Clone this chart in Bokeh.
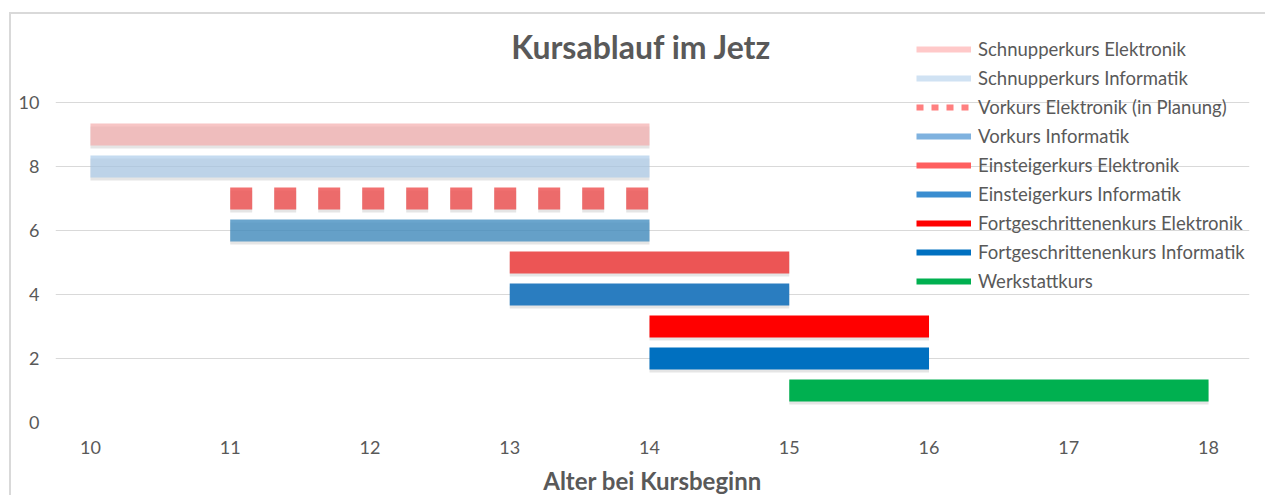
from bokeh.plotting import figure
from bokeh.models import Legend, LegendItem, Range1d, FixedTicker, Label
from bokeh.embed import file_html
from bokeh.resources import INLINE

courses = [
    "Schnupperkurs Elektronik",
    "Schnupperkurs Informatik",
    "Vorkurs Elektronik (in Planung)",
    "Vorkurs Informatik",
    "Einsteigerkurs Elektronik",
    "Einsteigerkurs Informatik",
    "Fortgeschrittenenkurs Elektronik",
    "Fortgeschrittenenkurs Informatik",
    "Werkstattkurs",
]
start_age = [10, 10, 11, 11, 13, 13, 14, 14, 15]
end_age = [14, 14, 14, 14, 15, 15, 16, 16, 18]
level = [9, 8, 7, 6, 5, 4, 3, 2, 1]
x_ticks = [10, 11, 12, 13, 14, 15, 16, 17, 18]
y_ticks = [0, 2, 4, 6, 8, 10]

bar_colors = ["#F4ACAC", "#ACCCE9", "#EE4C4C", "#458FC1", "#EC5555", "#2A7DC0", "#FF0000", "#0070C0", "#00B050"]
bar_alpha = [0.7, 0.7, 0.8, 0.8, 1, 1, 1, 1, 1]
legend_colors = ["#FFC9C9", "#D0E2F3", "#FF7F7F", "#7FB2DF", "#FF5F5F", "#3A8DD0", "#FF0000", "#0070C0", "#00B050"]
dashes = ["solid", "solid", "22 22", "solid", "solid", "solid", "solid", "solid", "solid"]
legend_dashes = ["solid", "solid", "7 8", "solid", "solid", "solid", "solid", "solid", "solid"]

TXT = "#595959"
FONT = "Lato"
SHADOW_DY = 0.09  # shadow drop in y units (~3px)

p = figure(width=1256, height=483, output_backend="svg", toolbar_location=None,
           x_range=Range1d(9.75, 18.293), y_range=Range1d(0, 12.75),
           min_border_left=44, min_border_right=18, min_border_top=0, min_border_bottom=75)
p.outline_line_color = None
p.background_fill_color = "white"
p.border_fill_color = "white"
p.styles = {"margin-left": "9px", "margin-top": "12px",
            "border-left": "2px solid #D9D9D9", "border-top": "2px solid #D9D9D9"}

for ax in (p.xaxis[0], p.yaxis[0]):
    ax.axis_line_color = None
    ax.major_tick_line_color = None
    ax.minor_tick_line_color = None
    ax.major_tick_out = 0
    ax.major_tick_in = 0
    ax.minor_tick_out = 0
    ax.major_label_text_font = FONT
    ax.major_label_text_font_size = "18px"
    ax.major_label_text_color = TXT

p.xaxis.ticker = FixedTicker(ticks=x_ticks)
p.yaxis.ticker = FixedTicker(ticks=y_ticks)
p.xaxis.major_label_standoff = 18
p.yaxis.major_label_standoff = 16
p.xaxis.axis_label = "Alter bei Kursbeginn"
p.xaxis.axis_label_text_font = FONT
p.xaxis.axis_label_text_font_size = "24px"
p.xaxis.axis_label_text_font_style = "bold"
p.xaxis.axis_label_text_color = TXT
p.xaxis.axis_label_standoff = 9

p.xgrid.grid_line_color = None
p.ygrid.grid_line_color = "#D9D9D9"
p.ygrid.grid_line_width = 1

# soft drop shadows
for i in range(len(courses)):
    p.line(x=[start_age[i], end_age[i]], y=[level[i] - SHADOW_DY, level[i] - SHADOW_DY],
           line_width=22, line_color="#000000", line_alpha=0.10,
           line_dash=dashes[i], line_cap="butt")

for i in range(len(courses)):
    p.line(x=[start_age[i], end_age[i]], y=[level[i], level[i]],
           line_width=22, line_color=bar_colors[i], line_alpha=bar_alpha[i],
           line_dash=dashes[i], line_cap="butt")

nan = float("nan")
items = []
for i in range(len(courses)):
    r = p.line(x=[nan, nan], y=[nan, nan], line_width=6, line_color=legend_colors[i],
               line_dash=legend_dashes[i], line_cap="butt")
    items.append(LegendItem(label=courses[i], renderers=[r]))

legend = Legend(items=items, location=(861, 130), orientation="vertical",
                glyph_width=55, glyph_height=20, label_height=20, spacing=7,
                label_standoff=7, padding=0, margin=0,
                label_text_font=FONT, label_text_font_size="18.5px", label_text_color=TXT,
                border_line_color=None, background_fill_alpha=0)
p.add_layout(legend, "center")

title = Label(x=586, y=376, x_units="screen", y_units="screen",
              text="Kursablauf im Jetz", text_align="center", text_baseline="middle",
              text_font=FONT, text_font_size="32px", text_font_style="bold", text_color=TXT)
p.add_layout(title)

open("out.html", "w").write(file_html(p, INLINE))
